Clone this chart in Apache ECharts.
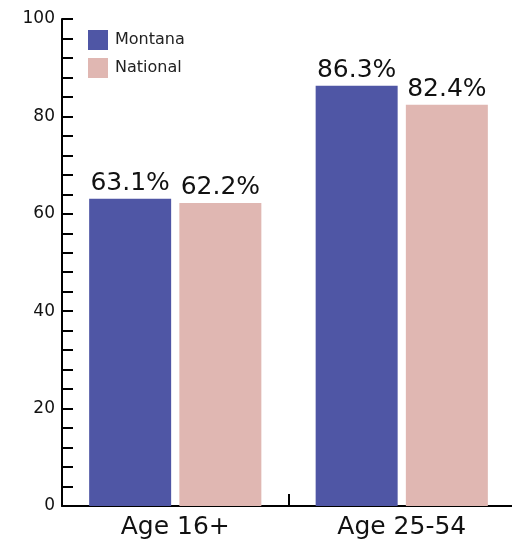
<!DOCTYPE html>
<html><head><meta charset="utf-8">
<script src="https://cdn.jsdelivr.net/npm/echarts@6/dist/echarts.min.js"></script>
<style>html,body{margin:0;padding:0;background:#fff}#c{width:512px;height:547px}</style>
</head><body><div id="c"></div>
<script>
var categories = ['Age 16+', 'Age 25-54'];
var montana = [63.1, 86.3];
var national = [62.2, 82.4];
var seriesNames = ['Montana', 'National'];
var yTicks = [0, 20, 40, 60, 80, 100];

var font = '"DejaVu Sans", sans-serif';
var chart = echarts.init(document.getElementById('c'));
function lbl(){return {show:true,position:'top',distance:3,color:'#111',fontSize:25,fontFamily:font,formatter:function(p){return p.value.toFixed(1)+'%';}};}
chart.setOption({
  animation:false,
  legend:{orient:'vertical',left:88,top:30,padding:0,itemWidth:20,itemHeight:20,itemGap:8,
    textStyle:{fontSize:16,fontFamily:font,color:'#222',padding:[0,0,0,2]},icon:'rect',data:seriesNames},
  grid:{left:62,top:19,width:453,bottom:41,outerBoundsMode:'none',containLabel:false},
  xAxis:{type:'category',data:categories,
    axisLine:{lineStyle:{color:'#000',width:2}},
    axisTick:{show:true,inside:true,length:12,lineStyle:{color:'#000',width:2}},
    axisLabel:{fontSize:25,fontFamily:font,color:'#111',margin:9}},
  yAxis:{type:'value',min:yTicks[0],max:yTicks[yTicks.length-1],interval:20,
    axisLine:{show:true,lineStyle:{color:'#000',width:2}},
    axisTick:{show:true,inside:true,length:11,lineStyle:{color:'#000',width:2}},
    minorTick:{show:true,splitNumber:5,length:11,lineStyle:{color:'#000',width:2}},
    splitLine:{show:false},
    axisLabel:{fontSize:17,fontFamily:font,color:'#111',margin:7}},
  series:[
    {name:seriesNames[0],type:'bar',data:montana,barWidth:82,barGap:'10%',itemStyle:{color:'#4F56A5'},label:lbl()},
    {name:seriesNames[1],type:'bar',data:national,barWidth:82,itemStyle:{color:'#E0B7B2'},label:lbl()}
  ]
});
</script></body></html>
